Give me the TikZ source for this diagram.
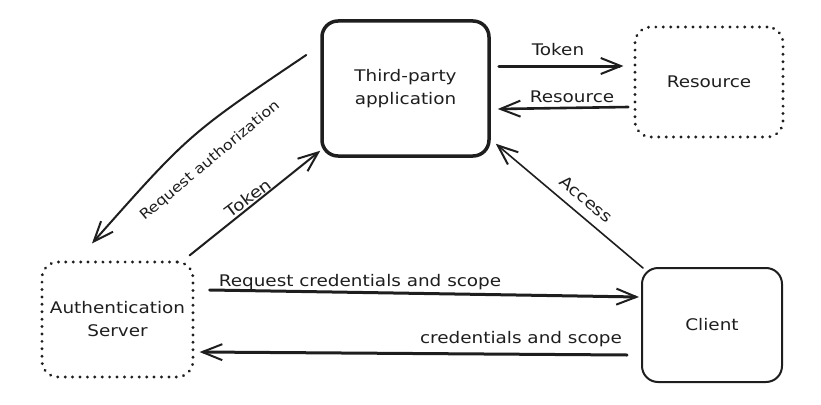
\documentclass[tikz,border=0pt]{standalone}
\usepackage{fontspec}
\setmainfont[FakeStretch=1.15]{DejaVu Sans}
\usetikzlibrary{arrows.meta}
\definecolor{ink}{HTML}{1E1E1E}
\begin{document}
\begin{tikzpicture}[x=1pt,y=-1pt,
  every node/.style={text=ink,font=\fontsize{16}{19}\selectfont},
  solidbox/.style={draw=ink,rounded corners=16pt,inner sep=0pt,align=center},
  dotbox/.style={draw=ink,rounded corners=16pt,inner sep=0pt,align=center,
     line width=3.2pt,line cap=round,dash pattern=on 0.01pt off 7.4pt},
  conn/.style={draw=ink,line cap=round,-{Straight Barb[length=20pt,width=16pt,line width=2pt]}},
  lbl/.style={inner sep=1pt}
]
\useasboundingbox (0,0) rectangle (821,404);
\node[solidbox,line width=3.5pt,minimum width=167pt,minimum height=135pt] (app) at (405.5,88.5) {Third-party\\[4pt]application};
\node[dotbox,minimum width=148pt,minimum height=110pt] (res) at (709,82) {Resource};
\node[dotbox,minimum width=151pt,minimum height=115pt] (auth) at (117.5,319.5) {Authentication\\[4pt]Server};
\node[solidbox,line width=2pt,minimum width=140pt,minimum height=114pt] (client) at (712,325) {Client};

% connectors
\draw[conn,line width=3pt] ([xshift=8pt,yshift=22.5pt]app.east) -- ([xshift=-10pt,yshift=16pt]res.west);
\draw[conn,line width=2.6pt] ([xshift=-5pt,yshift=-25pt]res.west) -- ([xshift=7pt,yshift=-20.5pt]app.east);
\draw[conn,line width=1.6pt] ([xshift=2pt,yshift=-1pt]client.north west) -- ([xshift=5pt,yshift=14pt]app.south east);
\draw[conn,line width=2pt] ([xshift=-14pt,yshift=33.5pt]app.west) .. controls (189,134) .. ([xshift=-25.5pt,yshift=17pt]auth.north);
\draw[conn,line width=2pt] ([xshift=-5pt,yshift=5pt]auth.north east) -- ([yshift=7pt]app.south west);
\draw[conn,line width=3pt] ([xshift=15pt,yshift=29.5pt]auth.east) -- ([xshift=-2pt,yshift=28pt]client.west);
\draw[conn,line width=3pt] ([xshift=-14pt,yshift=-30pt]client.west) -- ([xshift=5pt,yshift=-32.5pt]auth.east);

% labels
\node[lbl] (ltok1) at (558,50) {Token};
\node[lbl] (lres) at (572,97) {Resource};
\node[lbl,rotate=-40] (lacc) at (586,199) {Access};
\node[lbl,rotate=40,font=\fontsize{14}{17}\selectfont] (lreq) at (210,161) {Request authorization};
\node[lbl,rotate=37] (ltok2) at (248,198) {Token};
\node[lbl] (lrc) at (360,282) {Request credentials and scope};
\node[lbl] (lcs) at (521,339) {credentials and scope};
\end{tikzpicture}
\end{document}
